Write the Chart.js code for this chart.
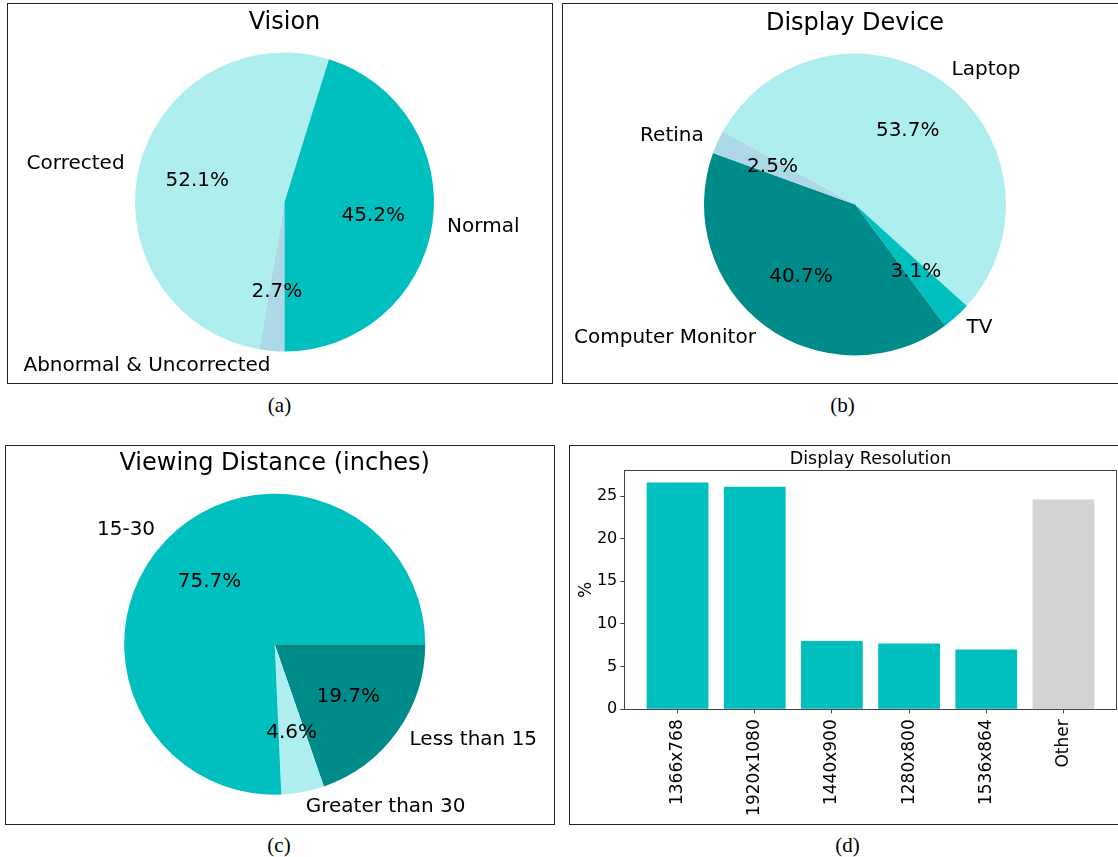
<!DOCTYPE html>
<html>
<head>
<meta charset="utf-8">
<script src="https://cdn.jsdelivr.net/npm/chart.js@4.4.1/dist/chart.umd.min.js"></script>
<style>
  body { margin: 0; background: #fff; width: 1118px; height: 857px; overflow: hidden; position: relative; }
  .box { position: absolute; border: 1px solid #222; box-sizing: border-box; }
  canvas { position: absolute; }
  .cap { position: absolute; font-family: "Liberation Serif", serif; font-size: 21px; transform: translate(-50%, -50%); white-space: nowrap; }
</style>
</head>
<body>
<div class="box" style="left:7px;top:3px;width:546px;height:381px"></div>
<div class="box" style="left:562px;top:3px;width:562px;height:381px"></div>
<div class="box" style="left:5px;top:445px;width:550px;height:380px"></div>
<div class="box" style="left:569px;top:445px;width:558px;height:380px"></div>

<canvas id="vision" width="544" height="378" style="left:8px;top:4px"></canvas>
<canvas id="device" width="555" height="378" style="left:563px;top:4px"></canvas>
<canvas id="distance" width="547" height="377" style="left:6px;top:446px"></canvas>
<canvas id="resolution" width="548" height="377" style="left:570px;top:446px"></canvas>

<div class="cap" style="left:279.5px;top:405px">(a)</div>
<div class="cap" style="left:842.5px;top:405px">(b)</div>
<div class="cap" style="left:279px;top:845px">(c)</div>
<div class="cap" style="left:847.5px;top:845px">(d)</div>

<script>
// slices are listed clockwise, starting from the chart's rotation angle
const visionLabels = ["Abnormal & Uncorrected", "Corrected", "Normal"];
const visionValues = [2.7, 52.1, 45.2];
const visionColors = ["#add8e6", "#afeeee", "#00bfbf"];

const deviceLabels = ["Laptop", "TV", "Computer Monitor", "Retina"];
const deviceValues = [53.7, 3.1, 40.7, 2.5];
const deviceColors = ["#afeeee", "#00bfbf", "#008b8b", "#add8e6"];

const distanceLabels = ["Less than 15", "Greater than 30", "15-30"];
const distanceValues = [19.7, 4.6, 75.7];
const distanceColors = ["#008b8b", "#afeeee", "#00bfbf"];

const resolutionLabels = ["1366x768", "1920x1080", "1440x900", "1280x800", "1536x864", "Other"];
const resolutionValues = [26.6, 26.1, 8.0, 7.7, 7.0, 24.6];
const yTicks = [0, 5, 10, 15, 20, 25];

const FONT = '"DejaVu Sans", sans-serif';

// title, percentages and outer labels for the pies
const pieText = {
  id: "pieText",
  afterDraw(chart, args, opts) {
    const ctx = chart.ctx;
    const area = chart.chartArea;
    const values = chart.data.datasets[0].data;
    ctx.save();
    ctx.fillStyle = "#000";
    ctx.textBaseline = "middle";
    ctx.textAlign = "center";
    ctx.font = "24px " + FONT;
    ctx.fillText(opts.title, (area.left + area.right) / 2, area.top - 30);
    ctx.font = "20px " + FONT;
    chart.getDatasetMeta(0).data.forEach((arc, i) => {
      const p = arc.getProps(["x", "y", "startAngle", "endAngle", "outerRadius"], true);
      const mid = (p.startAngle + p.endAngle) / 2;
      const cos = Math.cos(mid), sin = Math.sin(mid);
      ctx.textAlign = "center";
      ctx.fillText(values[i].toFixed(1) + "%", p.x + cos * p.outerRadius * 0.6, p.y + sin * p.outerRadius * 0.6);
      ctx.textAlign = cos > 0 ? "left" : "right";
      ctx.fillText(chart.data.labels[i], p.x + cos * p.outerRadius * 1.1, p.y + sin * p.outerRadius * 1.1);
    });
    ctx.restore();
  }
};

function makePie(id, labels, values, colors, rotation, title, cx, cy, r) {
  const canvas = document.getElementById(id);
  const left = canvas.offsetLeft, top = canvas.offsetTop;
  return new Chart(canvas, {
    type: "pie",
    data: {
      labels: labels,
      datasets: [{ data: values, backgroundColor: colors, borderWidth: 0 }]
    },
    options: {
      responsive: false,
      animation: false,
      rotation: rotation,
      layout: {
        padding: {
          left: cx - r - left,
          right: left + canvas.width - cx - r,
          top: cy - r - top,
          bottom: top + canvas.height - cy - r
        }
      },
      plugins: {
        legend: { display: false },
        tooltip: { enabled: false },
        pieText: { title: title }
      }
    },
    plugins: [pieText]
  });
}

makePie("vision", visionLabels, visionValues, visionColors, 180, "Vision", 284.5, 202, 149.5);
makePie("device", deviceLabels, deviceValues, deviceColors, -61.1, "Display Device", 855, 204.5, 151);
makePie("distance", distanceLabels, distanceValues, distanceColors, 90, "Viewing Distance (inches)", 274.7, 644.2, 150.5);

// axes frame, title and y label for the bar chart
const barFrame = {
  id: "barFrame",
  afterDatasetsDraw(chart) {
    const { ctx, chartArea: a } = chart;
    ctx.save();
    ctx.strokeStyle = "#444";
    ctx.lineWidth = 1;
    const x0 = Math.floor(a.left) + 0.5, x1 = Math.floor(a.right) + 0.5;
    const y0 = Math.floor(a.top) + 0.5, y1 = Math.floor(a.bottom) + 0.5;
    ctx.strokeRect(x0, y0, x1 - x0, y1 - y0);
    ctx.fillStyle = "#000";
    ctx.textAlign = "center";
    ctx.textBaseline = "middle";
    ctx.font = "17.5px " + FONT;
    ctx.fillText("Display Resolution", (a.left + a.right) / 2, a.top - 11);
    ctx.font = "17px " + FONT;
    ctx.translate(16.7, (a.top + a.bottom) / 2);
    ctx.rotate(-Math.PI / 2);
    ctx.fillText("%", 0, 0);
    ctx.restore();
  }
};

const tickGrid = { drawOnChartArea: false, drawTicks: true, offset: false, tickLength: 4, color: "#444", lineWidth: 1 };

new Chart(document.getElementById("resolution"), {
  type: "bar",
  data: {
    datasets: [{
      data: resolutionValues.map((v, i) => ({ x: i, y: v })),
      backgroundColor: resolutionLabels.map(l => l === "Other" ? "#d3d3d3" : "#00bfbf"),
      borderWidth: 0,
      barPercentage: 0.8,
      categoryPercentage: 1
    }]
  },
  options: {
    responsive: false,
    animation: false,
    layout: { padding: { top: 24.7, right: 1.3, left: 0, bottom: 0 } },
    scales: {
      x: {
        type: "linear",
        offset: false,
        min: -0.69,
        max: 5.69,
        afterBuildTicks: s => { s.ticks = resolutionLabels.map((l, i) => ({ value: i })); },
        afterFit: s => { s.height = 113.7; },
        grid: tickGrid,
        border: { display: false },
        ticks: {
          minRotation: 90,
          maxRotation: 90,
          autoSkip: false,
          padding: 6,
          color: "#000",
          font: { family: FONT, size: 17 },
          callback: v => resolutionLabels[v]
        }
      },
      y: {
        min: 0,
        max: 27.97,
        afterBuildTicks: s => { s.ticks = yTicks.map(v => ({ value: v })); },
        afterFit: s => { s.width = 54.3; },
        grid: tickGrid,
        border: { display: false },
        ticks: { padding: 3, color: "#000", font: { family: FONT, size: 16 } }
      }
    },
    plugins: {
      legend: { display: false },
      tooltip: { enabled: false }
    }
  },
  plugins: [barFrame]
});
</script>
</body>
</html>
